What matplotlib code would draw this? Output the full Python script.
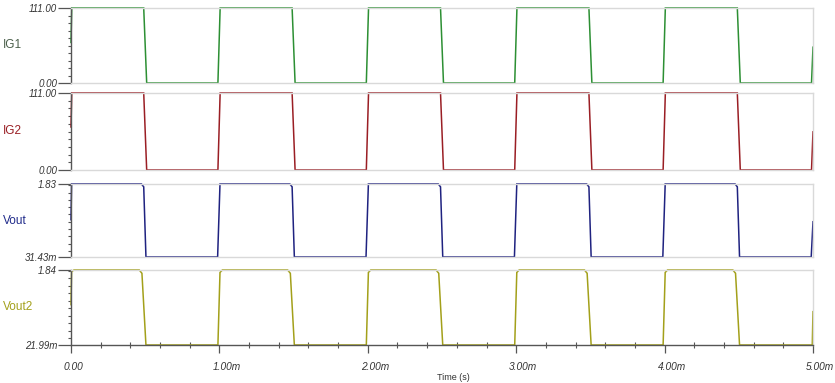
import matplotlib
matplotlib.use('Agg')
import matplotlib.pyplot as plt
import matplotlib.transforms as mtransforms
from matplotlib.ticker import FixedLocator, FuncFormatter, MultipleLocator

plt.rcParams['font.family'] = ['Liberation Sans', 'DejaVu Sans']

# time axis in ms
t_ig = [0.0, 0.005, 0.49, 0.51, 0.99, 1.005, 1.49, 1.51, 1.99, 2.005, 2.49, 2.51,
        2.99, 3.005, 3.49, 3.51, 3.99, 4.005, 4.49, 4.51, 4.99, 5.0]
ig1 = [60, 111, 111, 0, 0, 111, 111, 0, 0, 111, 111, 0,
       0, 111, 111, 0, 0, 111, 111, 0, 0, 53]
ig2 = [62, 111, 111, 0, 0, 111, 111, 0, 0, 111, 111, 0,
       0, 111, 111, 0, 0, 111, 111, 0, 0, 55]

t_vout = [0.0, 0.004, 0.475, 0.49, 0.505, 0.988, 1.004, 1.475, 1.49, 1.505,
          1.988, 2.004, 2.475, 2.49, 2.505, 2.988, 3.004, 3.475, 3.49, 3.505,
          3.988, 4.004, 4.475, 4.49, 4.505, 4.988, 5.0]
vout = [0.95, 1.83, 1.83, 1.76, 0.03143, 0.03143, 1.83, 1.83, 1.76, 0.03143,
        0.03143, 1.83, 1.83, 1.76, 0.03143, 0.03143, 1.83, 1.83, 1.76, 0.03143,
        0.03143, 1.83, 1.83, 1.76, 0.03143, 0.03143, 0.90]

t_vout2 = [0.0, 0.004, 0.02, 0.46, 0.478, 0.505, 0.99, 1.004, 1.02, 1.46, 1.478, 1.505,
           1.99, 2.004, 2.02, 2.46, 2.478, 2.505, 2.99, 3.004, 3.02, 3.46, 3.478, 3.505,
           3.99, 4.004, 4.02, 4.46, 4.478, 4.505, 4.995, 5.0]
vout2 = [1.0, 1.80, 1.84, 1.84, 1.76, 0.02199, 0.02199, 1.78, 1.84, 1.84, 1.76, 0.02199,
         0.02199, 1.78, 1.84, 1.84, 1.76, 0.02199, 0.02199, 1.78, 1.84, 1.84, 1.76, 0.02199,
         0.02199, 1.78, 1.84, 1.84, 1.76, 0.02199, 0.02199, 0.83]

names = ['IG1', 'IG2', 'Vout', 'Vout2']
colors = ['#2c8f33', '#9a1e24', '#1f2280', '#a3a01a']
name_colors = ['#4a5f4a', '#9a1e24', '#1f2a8a', '#a3a01a']
ylims = [(0.0, 111.0), (0.0, 111.0), (0.03143, 1.83), (0.02199, 1.84)]
ylabels = [('0.00', '111.00'), ('0.00', '111.00'), ('31.43m', '1.83'), ('21.99m', '1.84')]
series = [(t_ig, ig1), (t_ig, ig2), (t_vout, vout), (t_vout2, vout2)]
xticks = [0, 1, 2, 3, 4, 5]

W, H = 835, 383
x0, x1 = 71, 813
# (top px, bottom px) of each panel
rows = [(8, 83), (93, 170), (184, 257), (270, 345)]

fig = plt.figure(figsize=(W / 100, H / 100), dpi=100)

for i in range(4):
    top, bot = rows[i]
    ax = fig.add_axes([x0 / W, 1 - bot / H, (x1 - x0) / W, (bot - top) / H])
    t, v = series[i]
    ax.plot(t, v, color=colors[i], lw=1.1, clip_on=False, solid_joinstyle='miter')
    ax.set_xlim(0, 5)
    lo, hi = ylims[i]
    ax.set_ylim(lo, hi)

    for s in ['top', 'right', 'bottom']:
        ax.spines[s].set_color('#d9d9d9')
        ax.spines[s].set_linewidth(1.0)
    ax.spines['left'].set_color('#555555')
    ax.spines['left'].set_linewidth(1.0)

    ax.yaxis.set_major_locator(FixedLocator([lo, hi]))
    ax.set_yticklabels(ylabels[i])
    ax.yaxis.set_minor_locator(MultipleLocator((hi - lo) / 10))
    ax.tick_params(axis='y', which='major', length=9.5, width=0.9, color='#555555',
                   pad=0.5, labelsize=7, labelcolor='#333333')
    ax.tick_params(axis='y', which='minor', length=2.5, width=0.8, color='#555555')
    for lab in ax.get_yticklabels():
        lab.set_fontstyle('italic')

    fig.text(3 / W, 1 - (top + bot) / 2 / H, names[i], color=name_colors[i],
             fontsize=8.5, ha='left', va='center')

    if i < 3:
        ax.set_xticks([])
    else:
        ax.spines['bottom'].set_color('#555555')
        ax.set_xticks(xticks)
        ax.xaxis.set_major_formatter(FuncFormatter(lambda x, p: '0.00' if x == 0 else '%.2fm' % x))
        ax.xaxis.set_minor_locator(MultipleLocator(0.2))
        ax.tick_params(axis='x', which='major', length=6, width=0.9, color='#555555',
                       pad=6, labelsize=7.3, labelcolor='#333333')
        ax.tick_params(axis='x', which='minor', direction='inout', length=4, width=0.8,
                       color='#555555')
        # labels sit a little right of their tick, as in the reference
        off = mtransforms.ScaledTranslation(-7 / 100, 0, fig.dpi_scale_trans)
        for lab in ax.get_xticklabels():
            lab.set_fontstyle('italic')
            lab.set_horizontalalignment('left')
            lab.set_transform(lab.get_transform() + off)

fig.text(453 / W, 1 - 377 / H, 'Time (s)', fontsize=6.5, color='#333333',
         ha='center', va='center')

fig.savefig('out.png', dpi=100)
